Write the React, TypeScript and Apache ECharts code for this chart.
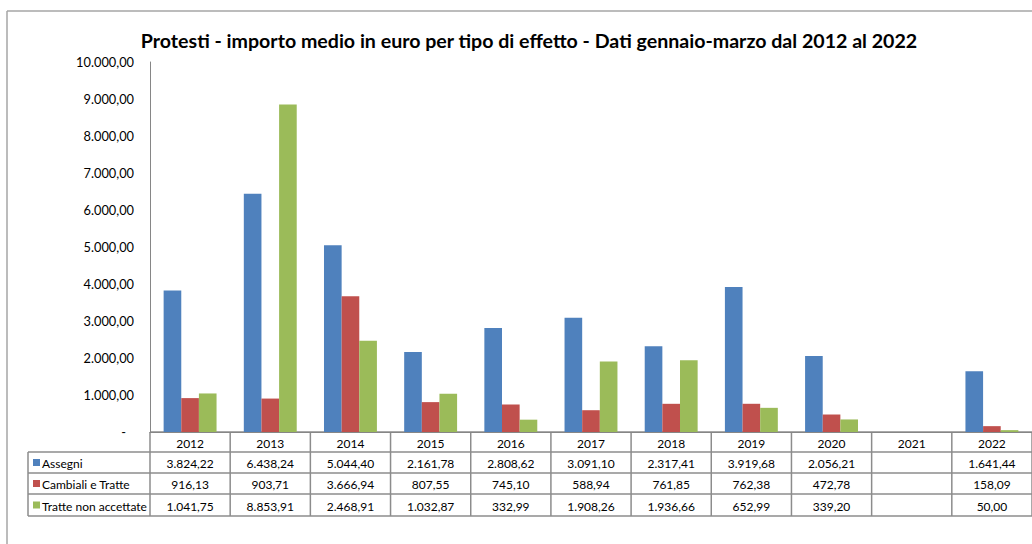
import React, { useEffect, useRef } from "react";
import * as echarts from "echarts";

const years = ["2012", "2013", "2014", "2015", "2016", "2017", "2018", "2019", "2020", "2021", "2022"];
const assegni = [3824.22, 6438.24, 5044.40, 2161.78, 2808.62, 3091.10, 2317.41, 3919.68, 2056.21, null, 1641.44];
const cambiali = [916.13, 903.71, 3666.94, 807.55, 745.10, 588.94, 761.85, 762.38, 472.78, null, 158.09];
const tratte = [1041.75, 8853.91, 2468.91, 1032.87, 332.99, 1908.26, 1936.66, 652.99, 339.20, null, 50.00];
const seriesNames = ["Assegni", "Cambiali e Tratte", "Tratte non accettate"];
const colors = ["#4F81BD", "#C0504D", "#9BBB59"];
const titleText = "Protesti - importo medio in euro per tipo di effetto - Dati gennaio-marzo dal 2012 al 2022";

const FONT = "Lato, 'Liberation Sans', sans-serif";

function fmt(v: number | null): string {
  if (v === null || v === undefined) return "";
  const s = v.toFixed(2);
  const [int, dec] = s.split(".");
  const withDots = int.replace(/\B(?=(\d{3})+(?!\d))/g, ".");
  return withDots + "," + dec;
}

export default function App() {
  const ref = useRef<HTMLDivElement>(null);
  useEffect(() => {
    document.body.style.margin = "0";
    const chart = echarts.init(ref.current!, null, { renderer: "svg" });
    const data = [assegni, cambiali, tratte];
    chart.setOption({
      animation: false,
      backgroundColor: "#fff",
      title: {
        text: titleText,
        left: "center",
        top: 28,
        show: false,
      },
      grid: { left: 150, right: 0, top: 62, bottom: 112 },
      xAxis: {
        type: "category",
        data: years,
        axisLine: { show: true, lineStyle: { color: "#868686" } },
        axisTick: { show: false },
        axisLabel: { show: false },
      },
      yAxis: {
        type: "value",
        min: 0,
        max: 10000,
        interval: 1000,
        axisLine: { show: true, lineStyle: { color: "#868686" } },
        axisTick: { show: false },
        splitLine: { show: false },
        axisLabel: {
          margin: 16,
          fontFamily: FONT,
          fontSize: 12.8,
          color: "#000",
          formatter: (v: number) => (v === 0 ? "{z|-}" : fmt(v)),
          rich: { z: { padding: [0, 8, 0, 0], fontFamily: FONT, fontSize: 12.8, color: "#000" } },
        },
      },
      series: data.map((d, i) => ({
        type: "bar",
        name: seriesNames[i],
        data: d,
        itemStyle: { color: colors[i] },
        barGap: "0%",
        barCategoryGap: "34%",
      })),
    });

    // build data table from the axis positions
    const c0 = chart.convertToPixel({ xAxisIndex: 0 }, 0) as number;
    const c1 = chart.convertToPixel({ xAxisIndex: 0 }, 1) as number;
    const band = c1 - c0;
    const xStart = c0 - band / 2;
    const xEnd = xStart + band * years.length;
    const rowsY = [432, 452, 473, 494, 516];
    const leftX = 28;
    const lineColor = "#8c8c8c";
    const g: any[] = [];
    // title
    g.push({
      type: "text",
      x: 529,
      y: 40,
      style: { text: titleText, fontFamily: FONT, fontSize: 19.6, fontWeight: "bold", fill: "#000", align: "center", verticalAlign: "middle" },
    });
    // chart border
    g.push({ type: "line", shape: { x1: 7, y1: 11, x2: 1032, y2: 11 }, style: { stroke: "#a6a6a6", lineWidth: 1.5 } });
    g.push({ type: "line", shape: { x1: 7, y1: 11, x2: 7, y2: 544 }, style: { stroke: "#a6a6a6", lineWidth: 1.5 } });
    // horizontal lines
    rowsY.forEach((y, i) => {
      g.push({
        type: "line",
        shape: { x1: i === 0 ? xStart : leftX, y1: y, x2: xEnd, y2: y },
        style: { stroke: lineColor, lineWidth: 1.5 },
      });
    });
    // vertical lines
    g.push({ type: "line", shape: { x1: leftX, y1: rowsY[1], x2: leftX, y2: rowsY[4] }, style: { stroke: lineColor, lineWidth: 1.5 } });
    for (let i = 0; i <= years.length; i++) {
      const x = xStart + band * i;
      g.push({ type: "line", shape: { x1: x, y1: rowsY[0], x2: x, y2: rowsY[4] }, style: { stroke: lineColor, lineWidth: 1.5 } });
    }
    // year header
    years.forEach((yr, i) => {
      const cx = chart.convertToPixel({ xAxisIndex: 0 }, i) as number;
      g.push({
        type: "text",
        x: cx,
        y: (rowsY[0] + rowsY[1]) / 2 + 1,
        style: { text: yr, fontFamily: FONT, fontSize: 12, fill: "#000", align: "center", verticalAlign: "middle" },
      });
    });
    // rows
    data.forEach((d, r) => {
      const cy = (rowsY[r + 1] + rowsY[r + 2]) / 2 + 1;
      g.push({ type: "rect", shape: { x: 33, y: cy - 4.5, width: 7, height: 7 }, style: { fill: colors[r] } });
      g.push({
        type: "text",
        x: 42,
        y: cy,
        style: { text: seriesNames[r], fontFamily: FONT, fontSize: 12, fill: "#000", align: "left", verticalAlign: "middle" },
      });
      d.forEach((v, i) => {
        const cx = chart.convertToPixel({ xAxisIndex: 0 }, i) as number;
        g.push({
          type: "text",
          x: cx,
          y: cy,
          style: { text: fmt(v), fontFamily: FONT, fontSize: 12, fill: "#000", align: "center", verticalAlign: "middle" },
        });
      });
    });
    chart.setOption({ graphic: g });
    return () => chart.dispose();
  }, []);
  return <div ref={ref} style={{ width: 1032, height: 544 }} />;
}
